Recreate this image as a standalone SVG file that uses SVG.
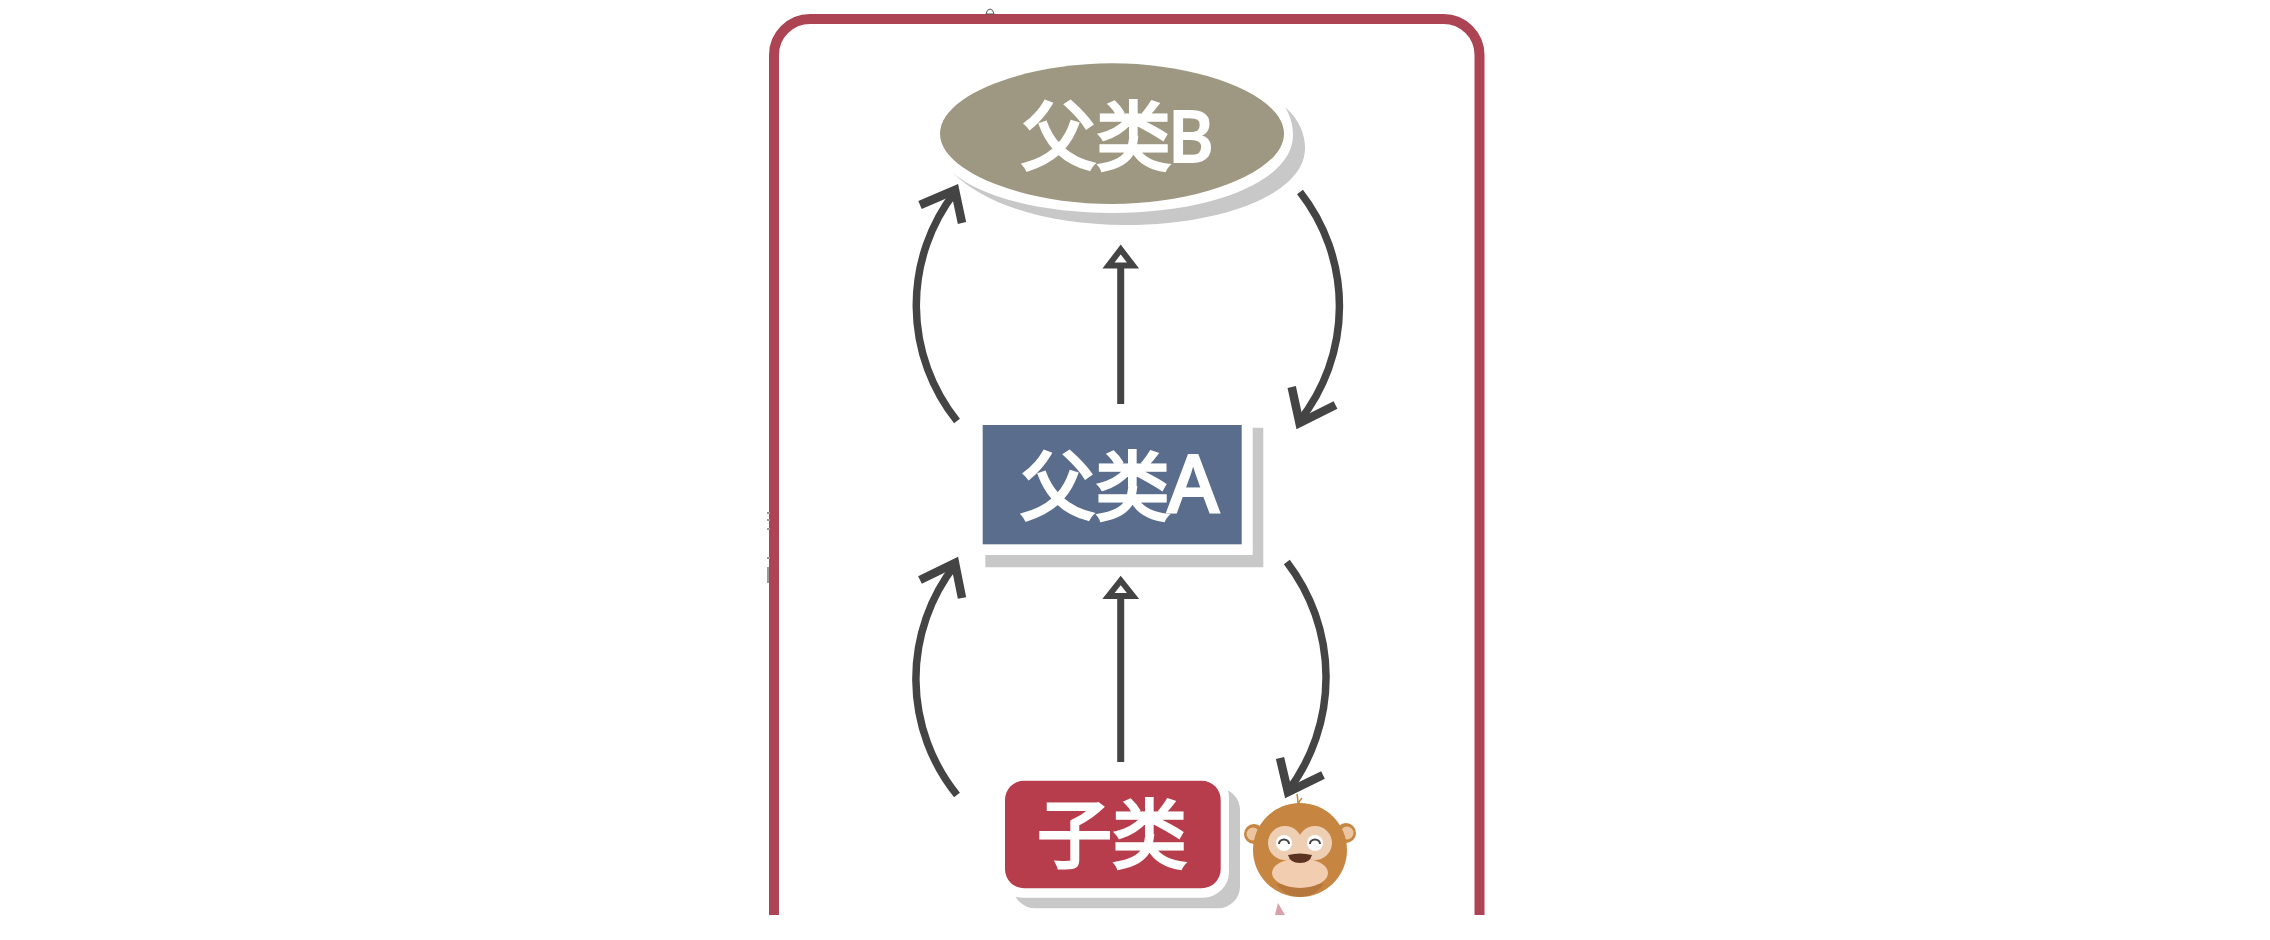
<svg xmlns="http://www.w3.org/2000/svg" width="2270" height="940" viewBox="0 0 2270 940">
<style>
.frame{fill:none;stroke:#ad4454;stroke-width:10}
.shadow{fill:#c8c8c8}
.gap{fill:#fff}
.label{fill:#fff;stroke:#fff;stroke-width:3;font-family:"Noto Sans CJK SC","Noto Sans",sans-serif;font-weight:400}
.latin{fill:#fff;stroke:#fff;stroke-width:1.800;font-family:"Noto Sans","Noto Sans CJK SC",sans-serif;font-weight:500}
.link{fill:none;stroke:#444;stroke-width:7.500}
.head{fill:none;stroke:#444;stroke-width:8.500}
.tri{fill:#fff;stroke:#444;stroke-width:6}
.bar{fill:none;stroke:#444;stroke-width:7}
</style>
<rect width="2270" height="940" fill="#fff"/>
<g id="frame">
<path class="frame" d="M774 915V55a36 36 0 0 1 36-36H1443.500a36 36 0 0 1 36 36V915"/>
<path d="M986 14q1-5 4-5t4 5z" fill="#fff" stroke="#555" stroke-width="1"/>
<path d="M767 513h3M767 520h3M767 529h3M767 558h3M768 567v16" stroke="#999" stroke-width="2" fill="none"/>
</g>
<g id="node-parent-b">
<path class="shadow" d="M1285 107C1300 120 1305 135 1305 148C1305 195 1220 225 1125 225C1050 225 985 205 953 173C985 200 1050 213 1112 213C1215 213 1293 180 1293 135C1293 125 1290 115 1285 107Z"/>
<path d="M940 133.700C940 95 1025 63.300 1112 63.300C1199 63.300 1284 95 1284 133.700C1284 172 1199 204 1112 204C1025 204 940 172 940 133.700Z" fill="#9e9882"/>
<text class="label" x="1021" y="164" font-size="75">父类</text>
<text class="latin" x="1168" y="162" font-size="70">B</text>
</g>
<g id="node-parent-a">
<path class="shadow" d="M1252.700 427.700H1263.300V567.300H985.300V555H1252.700Z"/>
<rect x="982.700" y="425" width="259" height="119.300" fill="#5a6d8c"/>
<text class="label" x="1020" y="514" font-size="75">父类</text>
<text class="latin" x="1167" y="512" font-size="80">A</text>
</g>
<g id="node-child">
<rect class="shadow" x="1013" y="788" width="227" height="120.300" rx="22"/>
<rect class="gap" x="997" y="772" width="232" height="125.700" rx="26"/>
<rect x="1005" y="780.700" width="215.700" height="107.600" rx="19" fill="#b73d4c"/>
<text class="label" x="1037" y="862" font-size="75">子类</text>
</g>
<g id="monkey">
<path d="M1298 804q0-5-1-10M1298 804q2-4 4-6" fill="none" stroke="#c68642" stroke-width="1.500"/>
<circle cx="1254" cy="834" r="10" fill="#c68642"/>
<circle cx="1253" cy="834" r="6.500" fill="#ecc4a0"/>
<circle cx="1346" cy="833" r="10" fill="#c68642"/>
<circle cx="1347" cy="833" r="6.500" fill="#ecc4a0"/>
<circle cx="1300" cy="850" r="47" fill="#c68642"/>
<path d="M1276 884h48q-10 13-24 13t-24-13z" fill="#b5773c"/>
<circle cx="1285" cy="843" r="17" fill="#efcfb4"/>
<circle cx="1315" cy="843" r="17" fill="#efcfb4"/>
<rect x="1290" y="845" width="20" height="18" fill="#efcfb4"/>
<ellipse cx="1300" cy="873" rx="28" ry="15" fill="#f3cdb0"/>
<circle cx="1284" cy="843" r="8" fill="#fff"/>
<circle cx="1315" cy="843" r="8" fill="#fff"/>
<path d="M1279 844a5 4.500 0 0 1 10 0M1310 844a5 4.500 0 0 1 10 0" fill="none" stroke="#444" stroke-width="2"/>
<path d="M1288 855q12-3 24 0q-2 8-12 8t-12-8z" fill="#5c3220"/>
<path d="M1275 915l3-12 7 12z" fill="#d9a0a8"/>
</g>
<g id="connectors">
<path class="link" d="M957 421A185 185 0 0 1 955 192"/>
<path class="head" d="M920 205L955 190L962 223"/>
<path class="link" d="M1300 192A185 185 0 0 1 1299.500 421"/>
<path class="head" d="M1291.700 387L1299.500 423L1335.500 405"/>
<path class="link" d="M957 795A185 185 0 0 1 955 565"/>
<path class="head" d="M920 580L955 563L962 598"/>
<path class="link" d="M1286.800 562A189 189 0 0 1 1288 791"/>
<path class="head" d="M1280 758L1288 792L1323 775"/>
<path class="bar" d="M1120.700 404V267"/>
<path class="tri" d="M1120.700 249.500L1108.500 265.500H1133z"/>
<path class="bar" d="M1120.700 762V595"/>
<path class="tri" d="M1120.700 580.500L1108.500 596H1133z"/>
</g>
</svg>
